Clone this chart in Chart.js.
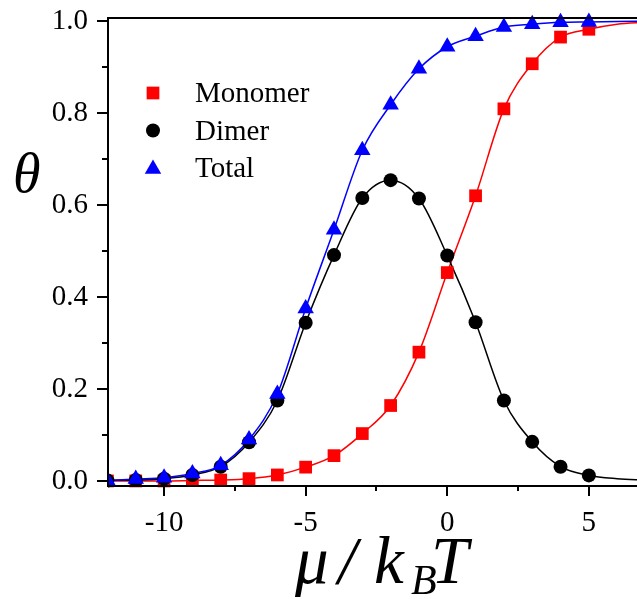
<!DOCTYPE html>
<html>
<head>
<meta charset="utf-8">
<script src="https://cdn.jsdelivr.net/npm/chart.js@4.4.0/dist/chart.umd.min.js"></script>
<style>
html, body { margin: 0; padding: 0; background: #fff; overflow: hidden; }
canvas { display: block; }
</style>
</head>
<body>
<canvas id="myChart" width="637" height="599"></canvas>
<script>
// chemical potential (mu / kBT) at which the coverage was sampled
var mu = [-12, -11, -10, -9, -8, -7, -6, -5, -4, -3, -2, -1, 0, 1, 2, 3, 4, 5];
var monomer = [0.000, 0.000, 0.000, 0.001, 0.002, 0.005, 0.013, 0.030, 0.055, 0.103, 0.164, 0.280, 0.453, 0.620, 0.809, 0.907, 0.965, 0.982];
var dimer = [0.001, 0.002, 0.005, 0.013, 0.031, 0.084, 0.175, 0.344, 0.491, 0.615, 0.654, 0.614, 0.490, 0.345, 0.175, 0.085, 0.031, 0.012];
var total = [0.001, 0.004, 0.007, 0.016, 0.034, 0.090, 0.189, 0.375, 0.546, 0.719, 0.818, 0.896, 0.944, 0.967, 0.987, 0.993, 0.997, 0.998];

// the fitted curves run on past the last sample
var tailMu = [6, 7];
var tailMonomer = [0.993, 0.997];
var tailDimer = [0.005, 0.002];
var tailTotal = [0.999, 1.000];

var seriesNames = ['Monomer', 'Dimer', 'Total'];
var xTicks = [-10, -5, 0, 5];
var yTicks = [0, 0.2, 0.4, 0.6, 0.8, 1.0];

var RED = '#ff0000', BLACK = '#000000', BLUE = '#0000ff';
var SERIF = '"Liberation Serif", "Times New Roman", serif';

function pts(xs, ys) {
    var out = [];
    for (var i = 0; i < xs.length; i++) out.push({x: xs[i], y: ys[i]});
    return out;
}

function markers(label, ys, color, style, r, order) {
    return {
        label: label,
        data: pts(mu, ys),
        showLine: false,
        pointStyle: style,
        pointRadius: r,
        pointHoverRadius: r,
        pointBackgroundColor: color,
        pointBorderColor: color,
        pointBorderWidth: 0,
        clip: {left: 0, right: 0, top: false, bottom: false},
        order: order
    };
}

function curve(ys, tail, color, order) {
    return {
        label: '',
        data: pts(mu.concat(tailMu), ys.concat(tail)),
        showLine: true,
        borderColor: color,
        borderWidth: 1.5,
        pointRadius: 0,
        cubicInterpolationMode: 'monotone',
        clip: 0,
        order: order
    };
}

function drawMarker(ctx, style, x, y, r, color) {
    ctx.fillStyle = color;
    ctx.beginPath();
    if (style == 'rect') {
        var s = Math.SQRT1_2 * r;
        ctx.rect(x - s, y - s, 2 * s, 2 * s);
    } else if (style == 'circle') {
        ctx.arc(x, y, r, 0, Math.PI * 2);
    } else {
        ctx.moveTo(x, y - r);
        ctx.lineTo(x + 0.866 * r, y + 0.5 * r);
        ctx.lineTo(x - 0.866 * r, y + 0.5 * r);
        ctx.closePath();
    }
    ctx.fill();
}

// axes frame with major/minor ticks, drawn over the markers
var frame = {
    id: 'frame',
    afterDatasetsDraw: function(chart) {
        var ctx = chart.ctx, a = chart.chartArea;
        var xs = chart.scales.x, ys = chart.scales.y;
        ctx.save();
        ctx.strokeStyle = BLACK;
        ctx.lineWidth = 2;
        ctx.beginPath();
        ctx.moveTo(a.left - 1, a.top); ctx.lineTo(a.right, a.top);
        ctx.moveTo(a.left, a.top); ctx.lineTo(a.left, a.bottom + 1);
        ctx.moveTo(a.left - 1, a.bottom); ctx.lineTo(a.right, a.bottom);
        ctx.stroke();

        ctx.beginPath();
        for (var v = Math.ceil(xs.min / 2.5) * 2.5; v <= xs.max; v += 2.5) {
            var px = Math.round(xs.getPixelForValue(v));
            var len = (v % 5 == 0) ? 10 : 5;
            ctx.moveTo(px, a.bottom); ctx.lineTo(px, a.bottom + len);
        }
        for (var k = 0; k <= 10; k++) {
            var py = Math.round(ys.getPixelForValue(k / 10));
            var ylen = (k % 2 == 0) ? 11 : 6;
            ctx.moveTo(a.left, py); ctx.lineTo(a.left - ylen, py);
        }
        ctx.stroke();
        ctx.restore();
    },
    afterDraw: function(chart) {
        var ctx = chart.ctx;
        ctx.save();
        ctx.fillStyle = BLACK;

        // legend in the upper left of the plot
        var styles = ['rect', 'circle', 'triangle'];
        var colors = [RED, BLACK, BLUE];
        var radii = [9, 7, 9.5];
        var rowY = [93, 130.5, 169];
        var baseY = [102, 140, 177];
        ctx.font = '29px ' + SERIF;
        ctx.textBaseline = 'alphabetic';
        ctx.textAlign = 'left';
        for (var i = 0; i < seriesNames.length; i++) {
            drawMarker(ctx, styles[i], 153, rowY[i], radii[i], colors[i]);
            ctx.fillStyle = BLACK;
            ctx.fillText(seriesNames[i], 195, baseY[i]);
        }

        // axis titles
        ctx.font = 'italic 56px ' + SERIF;
        ctx.fillText('\u03b8', 13, 192);

        var base = 583;
        ctx.font = 'italic 67px ' + SERIF;
        ctx.fillText('\u03bc', 295, base);
        ctx.fillText('/', 338, base);
        ctx.fillText('k', 374, base);
        ctx.fillText('T', 431, base);
        ctx.font = 'italic 42px ' + SERIF;
        ctx.fillText('B', 411, base + 11);
        ctx.restore();
    }
};

const ctx = document.getElementById('myChart').getContext('2d');
const myChart = new Chart(ctx, {
    type: 'scatter',
    data: {
        datasets: [
            markers(seriesNames[2], total, BLUE, 'triangle', 9.5, 0),
            markers(seriesNames[1], dimer, BLACK, 'circle', 7, 1),
            markers(seriesNames[0], monomer, RED, 'rect', 9, 2),
            curve(total, tailTotal, BLUE, 3),
            curve(dimer, tailDimer, BLACK, 4),
            curve(monomer, tailMonomer, RED, 5)
        ]
    },
    options: {
        responsive: false,
        animation: false,
        layout: {autoPadding: false, padding: {top: 18, right: 0, left: 0, bottom: 0}},
        plugins: {
            legend: {display: false},
            tooltip: {enabled: false}
        },
        scales: {
            x: {
                type: 'linear',
                min: -11.98,
                max: 6.70,
                grid: {display: false, drawTicks: false},
                border: {display: false},
                afterBuildTicks: function(scale) {
                    scale.ticks = xTicks.map(function(v) { return {value: v}; });
                },
                afterFit: function(scale) {
                    scale.height = 113;
                    scale.paddingLeft = 0;
                    scale.paddingRight = 0;
                },
                ticks: {
                    color: BLACK,
                    padding: 20,
                    maxRotation: 0,
                    font: {family: SERIF, size: 29},
                    callback: function(v) { return String(v); }
                }
            },
            y: {
                type: 'linear',
                min: -0.011,
                max: 1.0065,
                grid: {display: false, drawTicks: false},
                border: {display: false},
                afterBuildTicks: function(scale) {
                    scale.ticks = yTicks.map(function(v) { return {value: v}; });
                },
                afterFit: function(scale) {
                    scale.width = 108;
                    scale.paddingTop = 0;
                    scale.paddingBottom = 0;
                },
                ticks: {
                    color: BLACK,
                    padding: 20,
                    font: {family: SERIF, size: 29},
                    callback: function(v) { return Number(v).toFixed(1); }
                }
            }
        }
    },
    plugins: [frame]
});
</script>
</body>
</html>
